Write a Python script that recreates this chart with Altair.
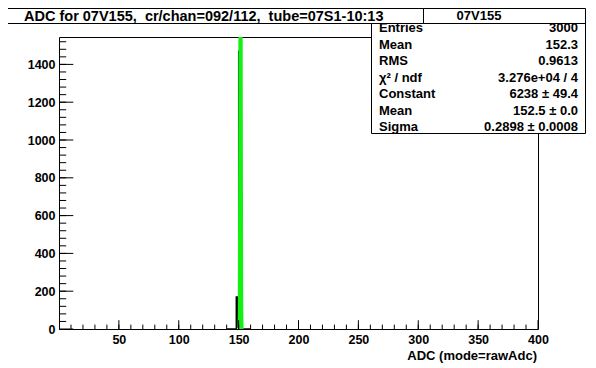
import altair as alt
import pandas as pd

# ---------------- data ----------------
bin_low = [140, 146, 147, 148, 149, 150, 151, 152, 153, 160]
bin_count = [0, 0, 0, 170, 10, 1470, 1240, 100, 0, 0]

fit_x = [150.3, 150.6, 151.0, 151.6, 152.2, 152.6, 152.9]
fit_y = [0, 100, 1230, 6238, 1230, 100, 0]

x_label_values = [50, 100, 150, 200, 250, 300, 350, 400]
x_minor_values = list(range(10, 400, 10))
y_label_values = [0, 200, 400, 600, 800, 1000, 1200, 1400]
y_minor_values = list(range(40, 1560, 40))

title_text = "ADC for 07V155,\u00a0 cr/chan=092/112,\u00a0 tube=07S1-10:13"
stats_title = "07V155"
stat_names = ["Entries", "Mean", "RMS", "\u03c7\u00b2 / ndf", "Constant", "Mean", "Sigma"]
stat_values = ["3000", "152.3", "0.9613", "3.276e+04 / 4", "6238 \u00b1 49.4",
               "152.5 \u00b1 0.0", "0.2898 \u00b1 0.0008"]
x_title = "ADC (mode=rawAdc)"

# ---------------- layout (pixels) ----------------
W, H = 479, 292
X0, Y0 = 59, 37           # page position of plot area
FONT = "Liberation Sans"
XMAX, YMAX = 400, 1545

xs = alt.Scale(domain=[0, XMAX], nice=False, zero=False)
ys = alt.Scale(domain=[0, YMAX], nice=False, zero=False)

hist_df = pd.DataFrame({"x": bin_low, "y": bin_count})
fit_df = pd.DataFrame({"x": fit_x, "y": fit_y})

hist = alt.Chart(hist_df).mark_line(
    interpolate="step-after", color="black", strokeWidth=1.3, clip=True
).encode(
    x=alt.X("x:Q", scale=xs,
            axis=alt.Axis(values=x_label_values, title=None, ticks=False, domain=False,
                          grid=False, labelFont=FONT, labelFontWeight="bold",
                          labelFontSize=12.5, labelColor="black", labelPadding=4,
                          labelFlush=False, format="d")),
    y=alt.Y("y:Q", scale=ys,
            axis=alt.Axis(values=y_label_values, title=None, ticks=False, domain=False,
                          grid=False, labelFont=FONT, labelFontWeight="bold",
                          labelFontSize=12.5, labelColor="black", labelPadding=4,
                          labelFlush=False, format="d")),
)

fit = alt.Chart(fit_df).mark_line(color="#14f014", strokeWidth=3, clip=True).encode(
    x=alt.X("x:Q", scale=xs), y=alt.Y("y:Q", scale=ys)
)

def xticks(vals, length):
    return alt.Chart(pd.DataFrame({"v": vals})).mark_rule(color="black", strokeWidth=1).encode(
        x=alt.X("v:Q", scale=xs), y=alt.value(H), y2=alt.value(H - length))

def yticks(vals, length):
    return alt.Chart(pd.DataFrame({"v": vals})).mark_rule(color="black", strokeWidth=1).encode(
        y=alt.Y("v:Q", scale=ys), x=alt.value(0), x2=alt.value(length))

one = pd.DataFrame({"a": [0]})

def box(x1, y1, x2, y2):
    return alt.Chart(one).mark_rect(fill="white", stroke="black", strokeWidth=1).encode(
        x=alt.value(x1 - X0), x2=alt.value(x2 - X0),
        y=alt.value(y1 - Y0), y2=alt.value(y2 - Y0))

def hline(x1, x2, y):
    return alt.Chart(one).mark_rule(color="black", strokeWidth=1).encode(
        x=alt.value(x1 - X0), x2=alt.value(x2 - X0), y=alt.value(y - Y0))

def text(s, x, y, align="left", size=13):
    return alt.Chart(pd.DataFrame({"t": [s]})).mark_text(
        align=align, baseline="middle", font=FONT, fontWeight="bold",
        fontSize=size, color="black"
    ).encode(text="t:N", x=alt.value(x - X0), y=alt.value(y - Y0))

layers = [hist, fit,
          xticks(x_label_values, 8.8), xticks(x_minor_values, 4.4),
          yticks(y_label_values, 14.3), yticks(y_minor_values, 7.2)]

# stats box
layers.append(box(371.5, 8.5, 585.5, 133.5))
layers.append(hline(371.5, 585.5, 23.5))
layers.append(text(stats_title, 479, 16, align="center", size=13))
row_y = [28, 44.5, 61, 77.5, 94, 110.5, 127]
for name, val, yy in zip(stat_names, stat_values, row_y):
    layers.append(text(name, 379, yy, "left", 13))
    layers.append(text(val, 578, yy, "right", 13))

# title box
layers.append(box(4.5, 8.5, 423.5, 23.5))
layers.append(text(title_text, 24, 16.5, "left", 14.5))

# x axis title
layers.append(text(x_title, 537, 356, "right", 13))

chart = alt.layer(*layers).properties(
    width=W, height=H,
    autosize=alt.AutoSizeParams(type="none"),
    padding={"left": X0 - 8, "top": Y0 - 8, "right": 50, "bottom": 36},
    background="white",
).configure_view(stroke="black", strokeWidth=1)

chart.save("out.html", embed_options={"renderer": "svg", "actions": False})
